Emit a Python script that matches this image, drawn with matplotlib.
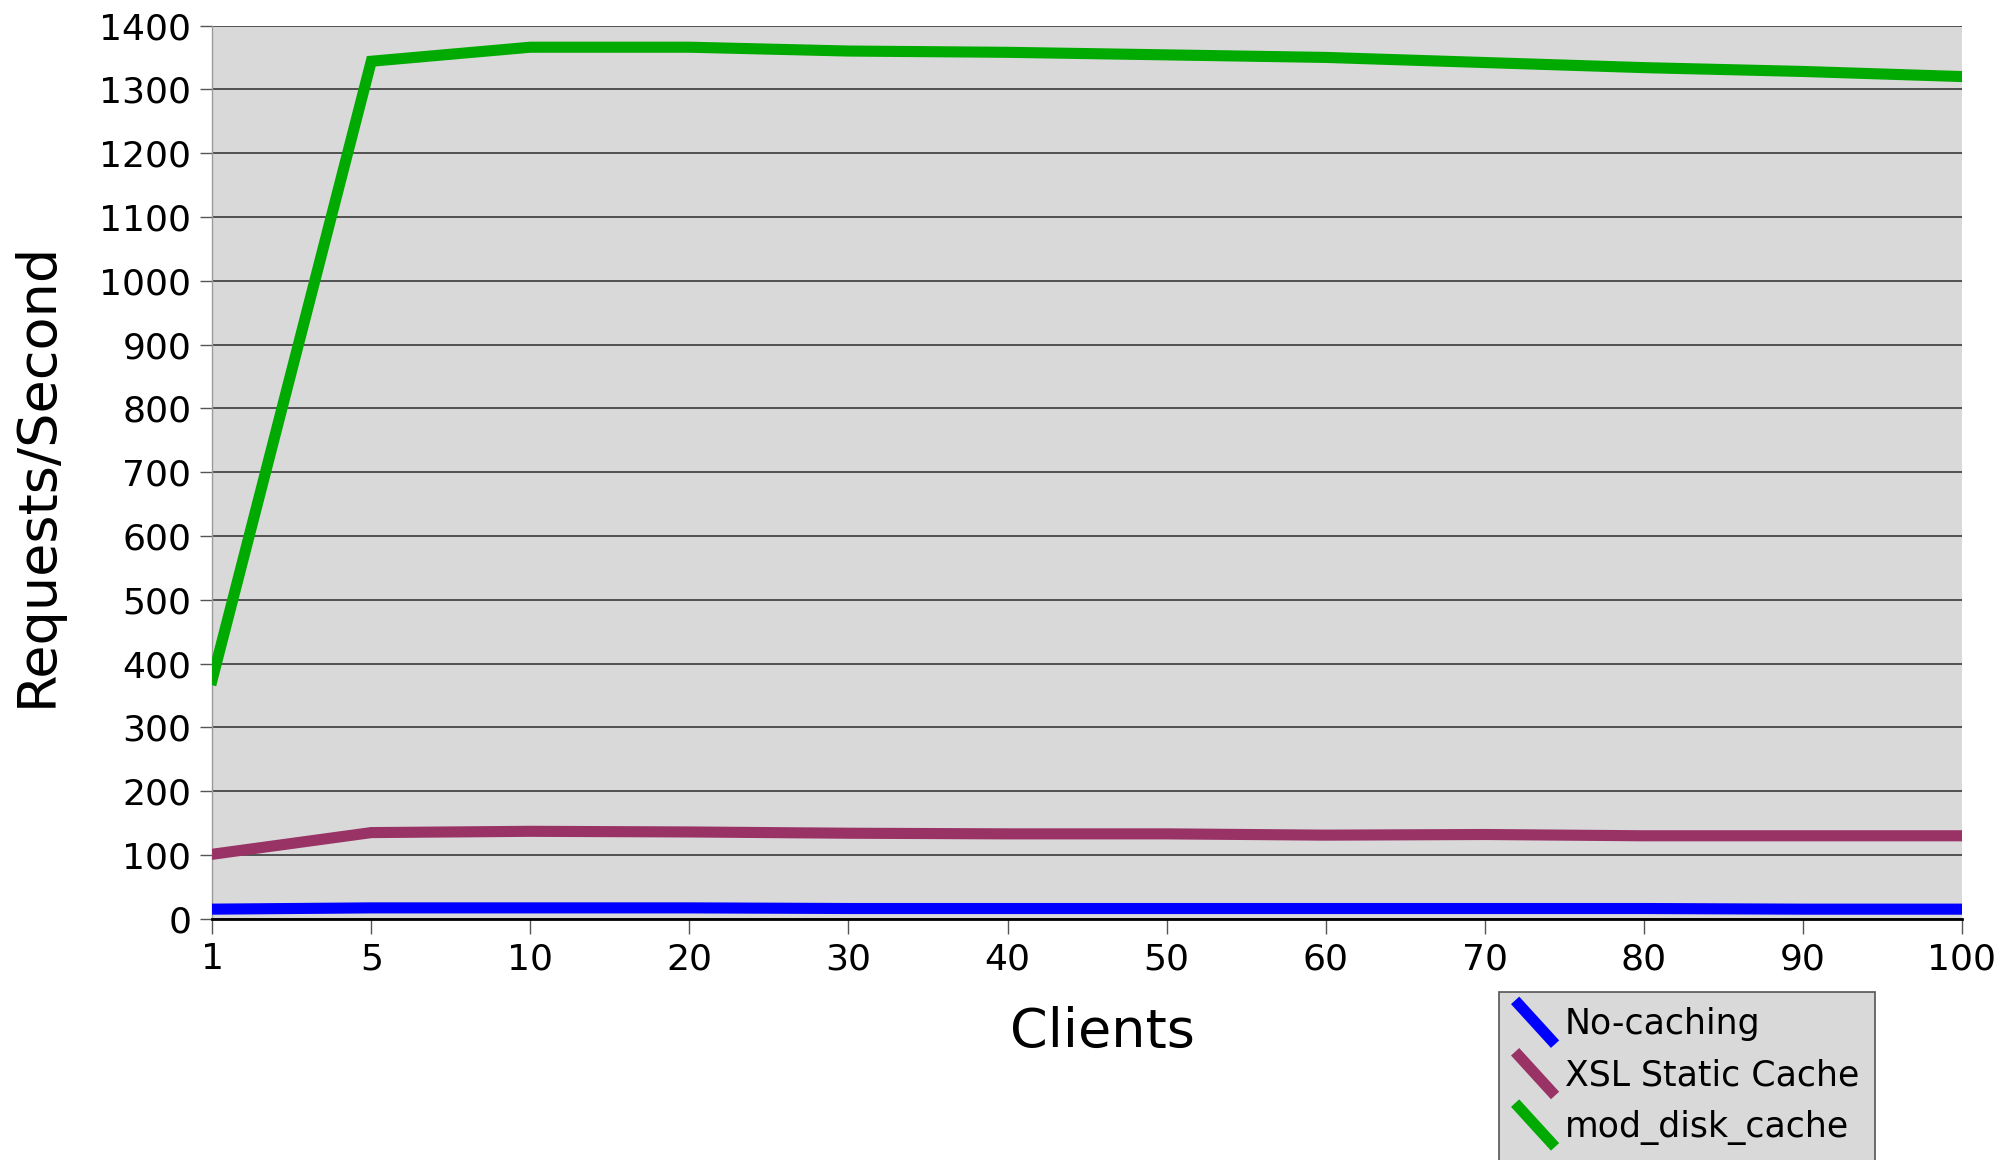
import matplotlib
matplotlib.use("Agg")
import matplotlib.pyplot as plt
from matplotlib.legend_handler import HandlerBase
from matplotlib.lines import Line2D
import numpy as np

# data
clients = ["1", "5", "10", "20", "30", "40", "50", "60", "70", "80", "90", "100"]
no_caching = [15, 17, 17, 17, 16, 16, 16, 16, 16, 16, 15, 15]
xsl_static = [101, 135, 137, 136, 134, 133, 133, 131, 132, 130, 130, 130]
mod_disk = [375, 1344, 1366, 1366, 1360, 1358, 1354, 1350, 1342, 1334, 1328, 1320]

series = [
    ("No-caching", no_caching, "#0000ff"),
    ("XSL Static Cache", xsl_static, "#993366"),
    ("mod_disk_cache", mod_disk, "#00aa00"),
]


class DiagonalHandler(HandlerBase):
    # legend key drawn as a slanted stroke, like the original office chart
    def create_artists(self, legend, orig_handle, xdescent, ydescent,
                       width, height, fontsize, trans):
        x0 = -xdescent
        y0 = -ydescent
        line = Line2D([x0, x0 + width], [y0 + height * 1.4, y0 - height * 0.4],
                      color=orig_handle.get_color(),
                      linewidth=orig_handle.get_linewidth(),
                      solid_capstyle="butt", transform=trans)
        return [line]


fig = plt.figure(figsize=(20.02, 11.6), dpi=100)
ax = fig.add_axes([0.106, 0.208, 0.874, 0.770])
ax.set_facecolor("#d9d9d9")

x = np.arange(len(clients))
handles = []
for name, vals, col in series:
    h, = ax.plot(x, vals, color=col, linewidth=8, label=name,
                 solid_joinstyle="miter", zorder=3)
    handles.append(h)

ax.set_xlim(0, len(clients) - 1)
ax.set_ylim(0, 1400)
ax.set_yticks(np.arange(0, 1401, 100))
ax.set_xticks(x)
ax.set_xticklabels(clients)

ax.yaxis.grid(True, color="#3a3a3a", linewidth=1.2, zorder=1)
ax.set_axisbelow(True)

for side in ["top", "right"]:
    ax.spines[side].set_visible(False)
ax.spines["left"].set_color("#9a9a9a")
ax.spines["left"].set_linewidth(1.0)
ax.spines["bottom"].set_color("#000000")
ax.spines["bottom"].set_linewidth(2.0)

ax.tick_params(axis="both", labelsize=26, colors="#000000")
ax.tick_params(axis="y", length=9, width=1.0, color="#555555", pad=6)
ax.tick_params(axis="x", length=11, width=1.0, color="#555555", pad=6)

ax.set_xlabel("Clients", fontsize=39)
ax.xaxis.set_label_coords(0.509, -0.098)
ax.set_ylabel("Requests/Second", fontsize=39)
ax.yaxis.set_label_coords(-0.0855, 0.497)

leg = fig.legend(handles=handles, loc="upper left",
                 bbox_to_anchor=(0.749, 0.145), fontsize=25,
                 handler_map={Line2D: DiagonalHandler()},
                 handlelength=1.15, handletextpad=0.28, labelspacing=0.5,
                 borderpad=0.45, borderaxespad=0.0, fancybox=False,
                 framealpha=1.0, facecolor="#d9d9d9", edgecolor="#555555")
leg.get_frame().set_linewidth(1.2)

fig.savefig("out.png", dpi=100)
